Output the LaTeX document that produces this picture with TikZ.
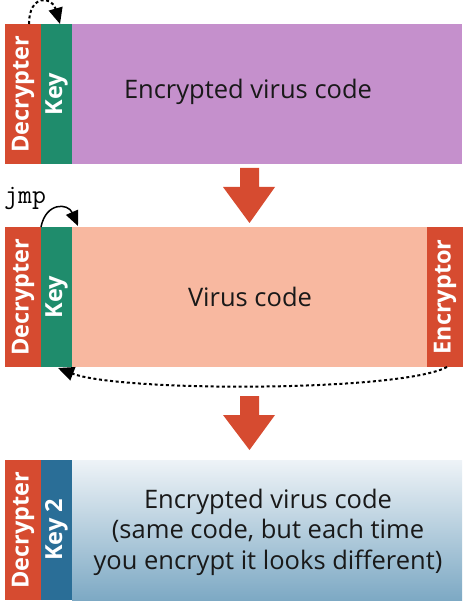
\documentclass[tikz,border=0pt]{standalone}
\usepackage{fontspec}
\setmainfont{Open Sans}
\usetikzlibrary{arrows.meta}
\definecolor{cred}{HTML}{D64B30}
\definecolor{cgreen}{HTML}{1F8C6C}
\definecolor{cpurple}{HTML}{C590CC}
\definecolor{csalmon}{HTML}{F8B8A0}
\definecolor{cblue}{HTML}{2A6E97}
\definecolor{cgtop}{HTML}{EEF3F7}
\definecolor{cgbot}{HTML}{7DA9C4}
\tikzset{
  seg/.style={inner sep=0pt, outer sep=0pt, minimum height=140pt, anchor=north west},
  vlab/.style={text=white, font=\fontsize{23.5}{26}\selectfont\bfseries, rotate=90},
  body/.style={text=black!90, font=\fontsize{25.5}{30.5}\selectfont, align=center},
  bigarrow/.style={fill=cred, draw=none},
  dotarrow/.style={line width=2pt, dash pattern=on 3pt off 2.6pt, -{Triangle[length=16pt,width=14pt]}},
  jmparrow/.style={line width=1.5pt, -{Triangle[length=15pt,width=13pt]}}
}
\begin{document}
\begin{tikzpicture}[x=1pt,y=-1pt]
\useasboundingbox (0,0) rectangle (465,601);
% row 1
\node[seg, fill=cred, minimum width=36pt] (d1) at (5,24) {};
\node[seg, fill=cgreen, minimum width=31pt] (k1) at (41,24) {};
\node[seg, fill=cpurple, minimum width=390pt] (b1) at (72,24) {};
\node[vlab] at (d1.center) {Decrypter};
\node[vlab] at (k1.center) {Key};
\node[body] (t1) at (248,92) {Encrypted virus code};
% row 2
\node[seg, fill=cred, minimum width=36pt] (d2) at (5,227) {};
\node[seg, fill=cgreen, minimum width=31pt] (k2) at (41,227) {};
\node[seg, fill=csalmon, minimum width=355pt] (b2) at (72,227) {};
\node[seg, fill=cred, minimum width=36pt] (e2) at (427,227) {};
\node[vlab] at (d2.center) {Decrypter};
\node[vlab] at (k2.center) {Key};
\node[vlab] at (e2.center) {Encryptor};
\node[body] (t2) at (250,297) {Virus code};
% row 3
\node[seg, fill=cred, minimum width=36pt] (d3) at (5,460) {};
\node[seg, fill=cblue, minimum width=31pt] (k3) at (41,460) {};
\node[seg, minimum width=390pt, top color=cgtop, bottom color=cgbot] (b3) at (72,460) {};
\node[vlab] at (d3.center) {Decrypter};
\node[vlab] at (k3.center) {Key 2};
\node[body] (t3) at (268,532) {Encrypted virus code\\(same code, but each time\\you encrypt it looks different)};
% big arrows
\fill[bigarrow] (240,168) -- (259,168) -- (259,187) -- (275,187) -- (249.5,223) -- (223,187) -- (240,187) -- cycle;
\fill[bigarrow] (240,396) -- (259,396) -- (259,415) -- (275,415) -- (249.5,450) -- (223,415) -- (240,415) -- cycle;
% connectors
\coordinate (a1) at (29,24);
\coordinate (a2) at (60,24);
\draw[dotarrow] (a1) .. controls (29,-6) and (52,-4) .. (a2);
\node[font=\fontsize{27}{30}\selectfont\ttfamily, anchor=base west, inner sep=0pt] (jmp) at (4,204) {jmp};
\coordinate (j1) at (41,227);
\coordinate (j2) at (78,226);
\draw[jmparrow] (j1) .. controls (46,202) and (68,203) .. (j2);
\coordinate (c1) at (447,367);
\coordinate (c2) at (58,368);
\draw[dotarrow] (c1) .. controls (400,392) and (120,392) .. (c2);
\end{tikzpicture}
\end{document}
